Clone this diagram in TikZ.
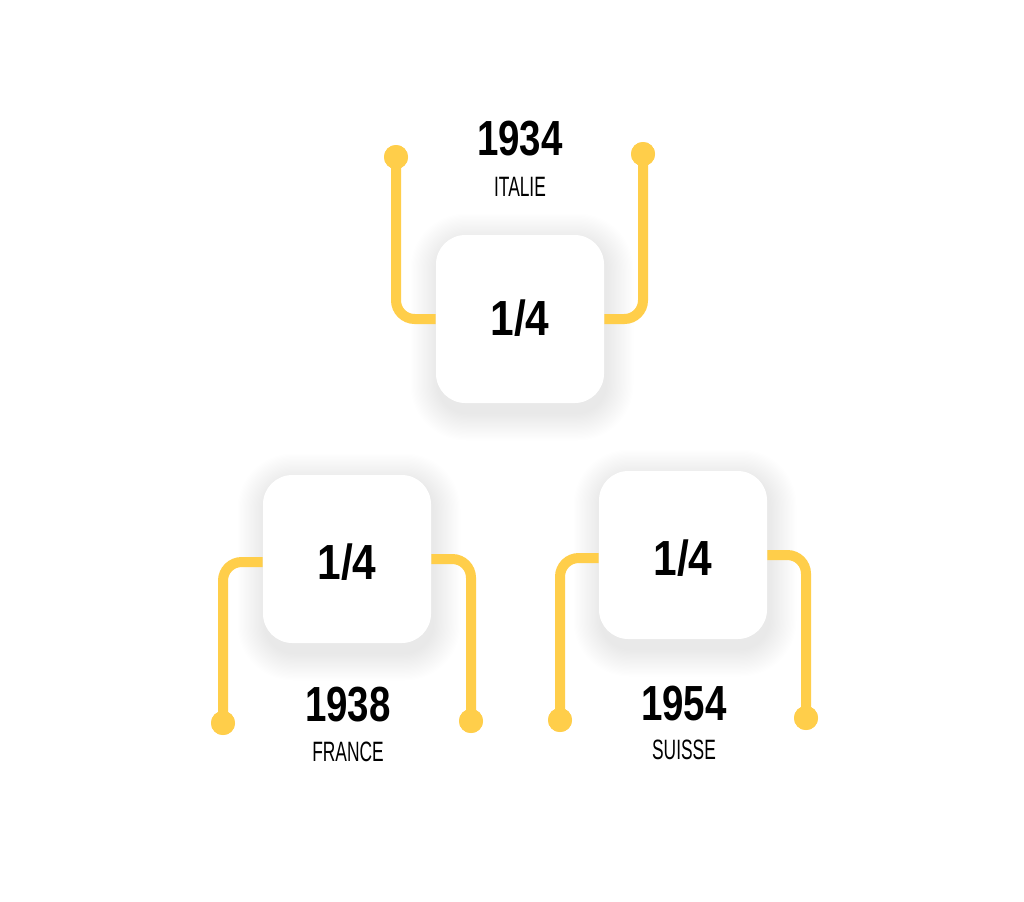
\documentclass[tikz,border=0pt]{standalone}
\usepackage{fontspec}
\newfontfamily\numfont[FakeStretch=0.78]{Liberation Sans}
\newfontfamily\fracfont[FakeStretch=0.86]{Liberation Sans}
\newfontfamily\lblfont[FakeStretch=0.62]{Liberation Sans}
\definecolor{ylw}{HTML}{FFCE4A}
\tikzset{
  box/.style={rectangle, rounded corners=22pt, minimum width=126pt, minimum height=126pt, fill=white, inner sep=0pt},
  conn/.style={draw=ylw, line width=7.5pt, rounded corners=14pt},
  dot/.style={circle, fill=ylw, minimum size=18pt, inner sep=0pt},
  frac/.style={font=\fracfont\bfseries\fontsize{37pt}{40pt}\selectfont, anchor=base, inner sep=0pt},
  year/.style={font=\numfont\bfseries\fontsize{37pt}{40pt}\selectfont, anchor=base, inner sep=0pt},
  country/.style={font=\lblfont\fontsize{21pt}{24pt}\selectfont, anchor=base, inner sep=0pt},
}
\newcommand{\softshadow}[2]{%
  \foreach \i in {1,...,22}{
    \fill[black, opacity=0.0042, rounded corners={22pt+\i*0.9pt}]
      ($(#1,#2)+(-82-\i*1.25,-78-\i*1.25)$) rectangle ($(#1,#2)+(86+\i*1.25,94+\i*1.25)$);
  }}
\usetikzlibrary{calc}
\begin{document}
\begin{tikzpicture}[x=0.75pt, y=-0.75pt]
\useasboundingbox (0,0) rectangle (1024,901);
\fill[white] (0,0) rectangle (1024,901);
% shadows
\softshadow{520}{319}
\softshadow{347}{559}
\softshadow{683}{555}
% boxes
\node[box] (b1) at (520,319) {};
\node[box] (b2) at (347,559) {};
\node[box] (b3) at (683,555) {};
% dots
\node[dot] (d1) at (396,157) {};
\node[dot] (d2) at (643,154) {};
\node[dot] (d3) at (223,723) {};
\node[dot] (d4) at (471,721) {};
\node[dot] (d5) at (560,720) {};
\node[dot] (d6) at (806,718) {};
% connector start points on box edges
\coordinate (s3) at ($(b2.west)+(0,3)$);
\coordinate (s5) at ($(b3.west)+(0,3)$);
% connectors
\draw[conn] (b1.west) -| (d1.center);
\draw[conn] (b1.east) -| (d2.center);
\draw[conn] (s3) -| (d3.center);
\draw[conn] (b2.east) -| (d4.center);
\draw[conn] (s5) -| (d5.center);
\draw[conn] (b3.east) -| (d6.center);
% redraw dots on top
\foreach \d in {d1,d2,d3,d4,d5,d6}{\fill[ylw] (\d.center) circle (9pt);}
% box texts
\node[frac] (f1) at (520,335) {1/4};
\node[frac] (f2) at (347,579) {1/4};
\node[frac] (f3) at (683,575) {1/4};
% labels
\node[year] (y1) at (520,155) {1934};
\node[country] (c1) at (520,196) {ITALIE};
\node[year] (y2) at (348,721) {1938};
\node[country] (c2) at (348,761) {FRANCE};
\node[year] (y3) at (684,720) {1954};
\node[country] (c3) at (684,759) {SUISSE};
\end{tikzpicture}
\end{document}
